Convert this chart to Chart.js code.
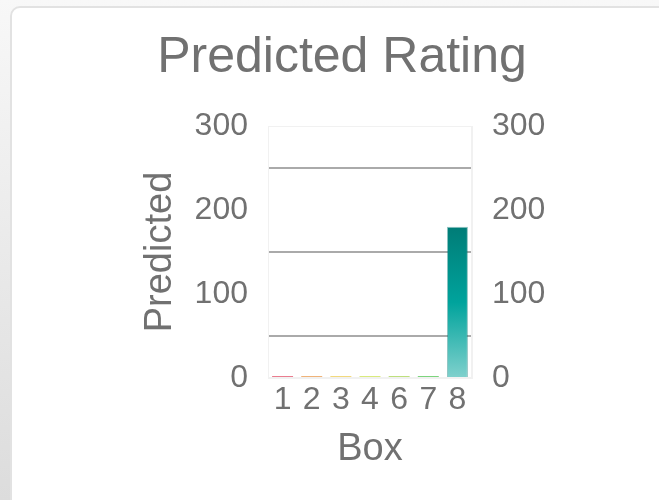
<!DOCTYPE html>
<html>
<head>
<meta charset="utf-8">
<title>Predicted Rating</title>
<script src="https://cdn.jsdelivr.net/npm/chart.js@4"></script>
<style>
  html, body { margin: 0; padding: 0; overflow: hidden; }
  body {
    width: 659px; height: 500px; position: relative;
    background: linear-gradient(to bottom, #f8f8f8, #dcdcdc);
    font-family: "Liberation Sans", Arial, sans-serif;
  }
  .card {
    position: absolute; left: 10px; top: 6px; width: 720px; height: 600px;
    background: #fff; border: 2px solid #e2e2e2; border-radius: 10px;
  }
  #ratingChart { position: absolute; left: 0; top: 0; }
</style>
</head>
<body>
<div class="card"></div>
<canvas id="ratingChart" width="659" height="500"></canvas>
<script>
// Box numbers and predicted counts
const boxes = ['1', '2', '3', '4', '6', '7', '8'];
const predicted = [2, 2, 2, 2, 2, 2, 180];
const boxColors = ['#e0405a', '#e8903a', '#ecc840', '#c8e040', '#a0d040', '#40c040', '#00a39c'];
const yTicks = [0, 100, 200, 300];

const textGrey = '#717171';
const fontFamily = '"Liberation Sans", Arial, sans-serif';

// teal gradient for the last box, light at the base, dark at the top
function barFill(ctx) {
    const i = ctx.dataIndex;
    if (i !== boxes.length - 1) return boxColors[i];
    const chart = ctx.chart;
    const y = chart.scales.y;
    if (!chart.chartArea) return boxColors[i];
    const top = y.getPixelForValue(predicted[i]);
    const base = y.getPixelForValue(0);
    const g = chart.ctx.createLinearGradient(0, top, 0, base);
    g.addColorStop(0, '#007c77');
    g.addColorStop(0.5, '#00a39c');
    g.addColorStop(1, '#80d1cd');
    return g;
}

// faint frame around the plot area
const areaFrame = {
    id: 'areaFrame',
    beforeDatasetsDraw(chart) {
        const a = chart.chartArea;
        const c = chart.ctx;
        c.save();
        c.strokeStyle = '#f1f1f1';
        c.lineWidth = 1;
        c.strokeRect(a.left + 0.5, a.top + 0.5, a.right - a.left - 1, a.bottom - a.top - 1);
        c.restore();
    }
};

document.addEventListener('DOMContentLoaded', function () {
    const ctx = document.getElementById('ratingChart');

    new Chart(ctx, {
        type: 'bar',
        data: {
            labels: boxes,
            datasets: [{
                label: 'Predicted',
                data: predicted,
                backgroundColor: barFill,
                borderColor: function (c) {
                    return c.dataIndex === boxes.length - 1 ? 'rgba(0,120,115,0.45)' : 'rgba(0,0,0,0)';
                },
                borderWidth: function (c) {
                    return c.dataIndex === boxes.length - 1 ? 1 : 0;
                },
                yAxisID: 'y'
            }]
        },
        options: {
            responsive: false,
            animation: false,
            layout: { padding: { left: 138, right: 113, top: 28, bottom: 24 } },
            plugins: {
                legend: { display: false },
                tooltip: { enabled: false },
                title: {
                    display: true,
                    text: 'Predicted Rating',
                    color: textGrey,
                    font: { family: fontFamily, size: 50, weight: 'normal' },
                    padding: { top: 0, bottom: 38 }
                }
            },
            scales: {
                x: {
                    grid: { display: false, drawTicks: false },
                    border: { display: true, color: '#f1f1f1' },
                    ticks: {
                        color: textGrey,
                        padding: 3,
                        maxRotation: 0,
                        autoSkip: false,
                        font: { family: fontFamily, size: 32 }
                    },
                    title: {
                        display: true,
                        text: 'Box',
                        color: textGrey,
                        font: { family: fontFamily, size: 38 },
                        padding: { top: 4, bottom: 4 }
                    }
                },
                y: {
                    position: 'left',
                    min: yTicks[0],
                    max: yTicks[yTicks.length - 1],
                    afterBuildTicks: function (s) { s.ticks = yTicks.map(v => ({ value: v })); },
                    afterFit: function (s) { s.width = 130; },
                    grid: { offset: true, color: '#aaaaaa', lineWidth: 2, drawTicks: false },
                    border: { display: true, color: '#f1f1f1' },
                    ticks: {
                        color: textGrey,
                        padding: 20,
                        font: { family: fontFamily, size: 32 }
                    },
                    title: {
                        display: true,
                        text: 'Predicted',
                        color: textGrey,
                        font: { family: fontFamily, size: 38 },
                        padding: { top: 0, bottom: 11 }
                    }
                },
                y2: {
                    position: 'right',
                    min: yTicks[0],
                    max: yTicks[yTicks.length - 1],
                    afterBuildTicks: function (s) { s.ticks = yTicks.map(v => ({ value: v })); },
                    afterFit: function (s) { s.width = 74; },
                    grid: { display: false, drawTicks: false },
                    border: { display: true, color: '#f1f1f1' },
                    ticks: {
                        color: textGrey,
                        padding: 20,
                        font: { family: fontFamily, size: 32 }
                    }
                }
            }
        },
        plugins: [areaFrame]
    });
});
</script>
</body>
</html>
